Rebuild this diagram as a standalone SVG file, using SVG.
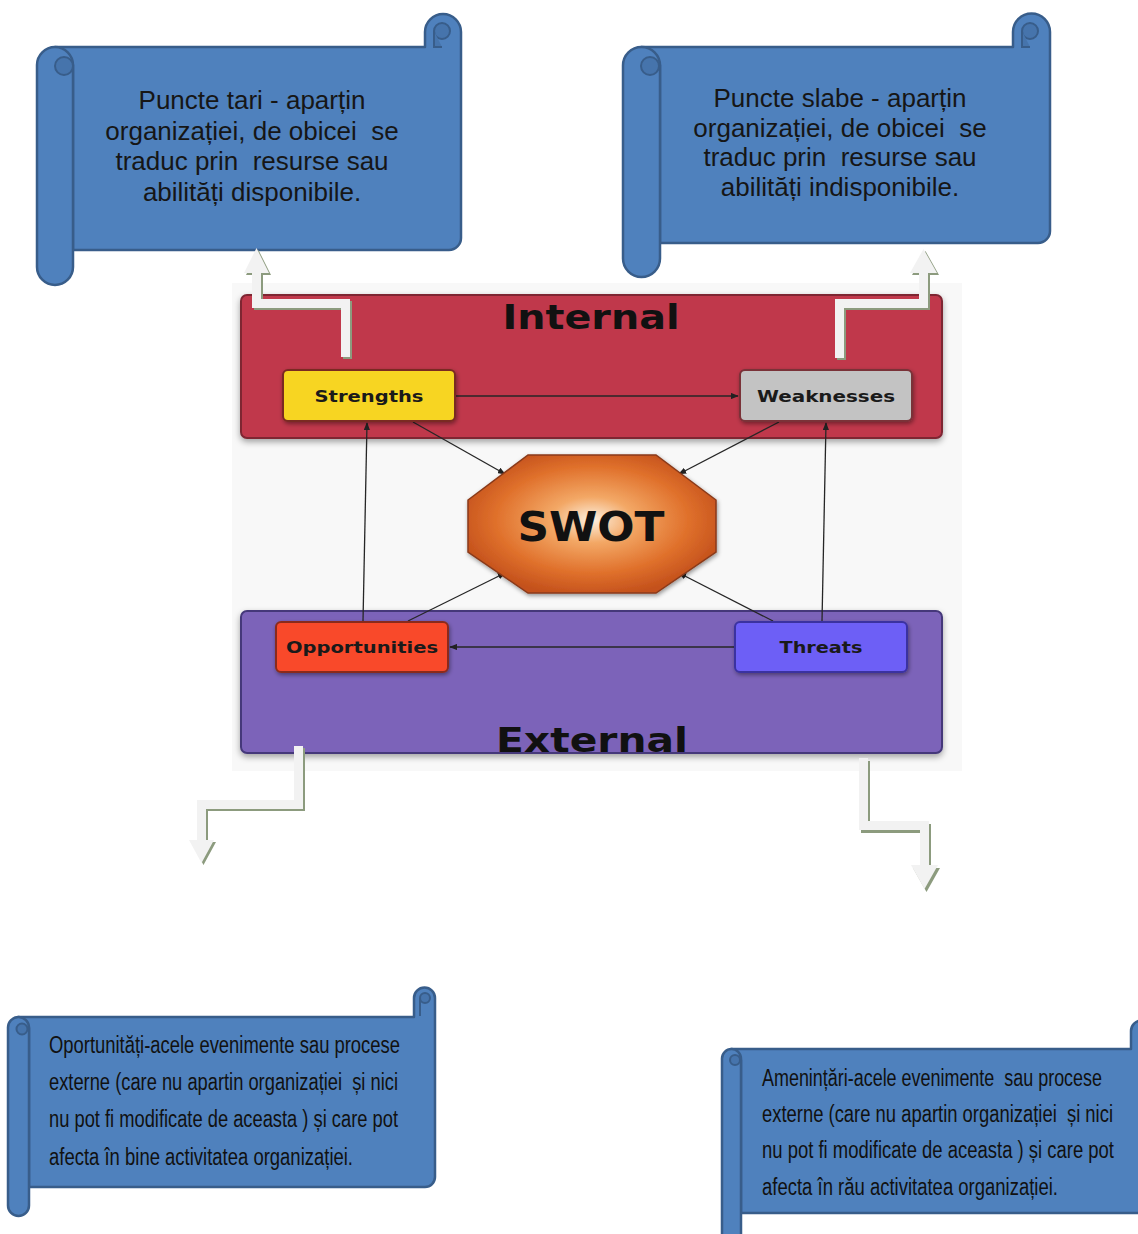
<svg xmlns="http://www.w3.org/2000/svg" width="1138" height="1234" viewBox="0 0 1138 1234">
<defs>
<style>
.scroll{fill:#4f81bd;stroke:#385d8a;stroke-width:2.5;stroke-linejoin:round}
.curl{fill:#4674ac;stroke:#385d8a;stroke-width:2}
.st{font-family:"Liberation Sans",Arial,sans-serif;font-size:26px;fill:#161616;text-anchor:middle}
.nt{font-family:"Liberation Sans",Arial,sans-serif;font-size:16px;fill:#111}
.bar{fill:#f2f2f2}
.barsh{fill:#8c9b7e}
.big{font-family:"DejaVu Sans","Liberation Sans",sans-serif;font-weight:bold;fill:#111;text-anchor:middle}
.lbl{font-family:"DejaVu Sans","Liberation Sans",sans-serif;font-weight:bold;font-size:16px;fill:#1a1a1a;text-anchor:middle}
.con{stroke:#262626;stroke-width:1.3;fill:none;marker-end:url(#ah)}
</style>
<marker id="ah" viewBox="0 0 10 8" refX="9" refY="4" markerWidth="8" markerHeight="6.5" markerUnits="userSpaceOnUse" orient="auto">
<path d="M0,0 L10,4 L0,8 Z" fill="#222"/>
</marker>
<filter id="sh" x="-5%" y="-10%" width="110%" height="130%">
<feDropShadow dx="0" dy="3" stdDeviation="3" flood-color="#000" flood-opacity="0.35"/>
</filter>
<filter id="sh2" x="-10%" y="-20%" width="120%" height="150%">
<feDropShadow dx="1" dy="2" stdDeviation="2" flood-color="#000" flood-opacity="0.4"/>
</filter>
<radialGradient id="og" cx="0.5" cy="0.47" r="0.55">
<stop offset="0" stop-color="#fdf0e0"/>
<stop offset="0.3" stop-color="#f3a866"/>
<stop offset="0.7" stop-color="#e0712c"/>
<stop offset="1" stop-color="#c4511c"/>
</radialGradient>
</defs>
<rect width="1138" height="1234" fill="#ffffff"/>
<rect x="232" y="283" width="730" height="488" fill="#f8f8f8"/>

<!-- Top-left scroll -->
<g id="scroll-puncte-tari">
<path class="scroll" d="M55 47 H425 V32 A18 18 0 0 1 461 32 V238 A12 12 0 0 1 449 250 H73 V65 Z"/>
<circle class="curl" cx="442" cy="31" r="8"/>
<path class="curl" d="M434 31 V47 H442"/>
<rect class="scroll" x="37" y="47" width="36" height="238" rx="18"/>
<circle class="curl" cx="64" cy="66" r="9"/>
<text class="st" xml:space="preserve" x="252" y="109">Puncte tari - aparțin</text>
<text class="st" xml:space="preserve" x="252" y="140">organizației, de obicei  se</text>
<text class="st" xml:space="preserve" x="252" y="170">traduc prin  resurse sau</text>
<text class="st" xml:space="preserve" x="252" y="201">abilități disponibile.</text>
</g>

<!-- Top-right scroll -->
<g id="scroll-puncte-slabe">
<path class="scroll" d="M641 47 H1013 V32 A18.5 18.5 0 0 1 1050 32 V231 A12 12 0 0 1 1038 243 H660 V65 Z"/>
<circle class="curl" cx="1030" cy="31" r="8"/>
<path class="curl" d="M1022 31 V47 H1030"/>
<rect class="scroll" x="623" y="47" width="37" height="230" rx="18.5"/>
<circle class="curl" cx="650" cy="66" r="9"/>
<text class="st" xml:space="preserve" x="840" y="107">Puncte slabe - aparțin</text>
<text class="st" xml:space="preserve" x="840" y="137">organizației, de obicei  se</text>
<text class="st" xml:space="preserve" x="840" y="166">traduc prin  resurse sau</text>
<text class="st" xml:space="preserve" x="840" y="196">abilități indisponibile.</text>
</g>

<!-- Bottom-left scroll -->
<g id="scroll-oportunitati">
<path class="scroll" d="M18 1017 H414 V998 A10.5 10.5 0 0 1 435 998 V1177 A10 10 0 0 1 425 1187 H29 V1028 Z"/>
<circle class="curl" cx="425" cy="998" r="5"/>
<path class="curl" d="M420 998 V1016"/>
<rect class="scroll" x="8" y="1017" width="21" height="199" rx="10.5"/>
<circle class="curl" cx="22" cy="1029" r="5.5"/>
<g transform="translate(49,1053) scale(1,1.55)"><text class="nt" xml:space="preserve" x="0" y="0" textLength="351" lengthAdjust="spacingAndGlyphs">Oportunități-acele evenimente sau procese</text></g>
<g transform="translate(49,1090) scale(1,1.55)"><text class="nt" xml:space="preserve" x="0" y="0" textLength="349" lengthAdjust="spacingAndGlyphs">externe (care nu apartin organizației  și nici</text></g>
<g transform="translate(49,1127) scale(1,1.55)"><text class="nt" xml:space="preserve" x="0" y="0" textLength="349" lengthAdjust="spacingAndGlyphs">nu pot fi modificate de aceasta ) și care pot</text></g>
<g transform="translate(49,1165) scale(1,1.55)"><text class="nt" xml:space="preserve" x="0" y="0" textLength="304" lengthAdjust="spacingAndGlyphs">afecta în bine activitatea organizației.</text></g>
</g>

<!-- Bottom-right scroll -->
<g id="scroll-amenintari">
<path class="scroll" d="M731 1049 H1131 V1031 A10.5 10.5 0 0 1 1152 1031 V1203 A10 10 0 0 1 1142 1213 H741 V1060 Z"/>
<rect class="scroll" x="722" y="1049" width="19" height="200" rx="9.5"/>
<circle class="curl" cx="735" cy="1060" r="5"/>
<g transform="translate(762,1086) scale(1,1.55)"><text class="nt" xml:space="preserve" x="0" y="0" textLength="340" lengthAdjust="spacingAndGlyphs">Amenințări-acele evenimente  sau procese</text></g>
<g transform="translate(762,1122) scale(1,1.55)"><text class="nt" xml:space="preserve" x="0" y="0" textLength="351" lengthAdjust="spacingAndGlyphs">externe (care nu apartin organizației  și nici</text></g>
<g transform="translate(762,1158) scale(1,1.55)"><text class="nt" xml:space="preserve" x="0" y="0" textLength="352" lengthAdjust="spacingAndGlyphs">nu pot fi modificate de aceasta ) și care pot</text></g>
<g transform="translate(762,1195) scale(1,1.55)"><text class="nt" xml:space="preserve" x="0" y="0" textLength="296" lengthAdjust="spacingAndGlyphs">afecta în rău activitatea organizației.</text></g>
</g>

<!-- SWOT containers -->
<g id="internal">
<rect x="241" y="295" width="701" height="143" rx="6" fill="#c0384c" stroke="#7e2633" stroke-width="2" filter="url(#sh)"/>
<text class="big" x="591" y="329" font-size="34" textLength="177" lengthAdjust="spacingAndGlyphs">Internal</text>
</g>
<g id="external">
<rect x="241" y="611" width="701" height="142" rx="6" fill="#7b63b9" stroke="#45397a" stroke-width="2" filter="url(#sh)"/>
<text class="big" x="592" y="752" font-size="34" textLength="192" lengthAdjust="spacingAndGlyphs">External</text>
</g>

<!-- Bent arrows -->
<g id="bent-arrows">
<polygon class="barsh" transform="translate(2,2)" points="341,357 350,357 350,299 261,299 261,273 269,273 256.5,248 244,273 252,273 252,308 341,308"/>
<polygon class="bar" points="341,357 350,357 350,299 261,299 261,273 269,273 256.5,248 244,273 252,273 252,308 341,308"/>
<polygon class="barsh" transform="translate(2,2)" points="835,358 844,358 844,308 928,308 928,273 937,273 923.5,249 910,273 919,273 919,299 835,299"/>
<polygon class="bar" points="835,358 844,358 844,308 928,308 928,273 937,273 923.5,249 910,273 919,273 919,299 835,299"/>
<polygon class="barsh" transform="translate(2,2)" points="294,746 303,746 303,809 206,809 206,840 214,840 201.5,863 189,840 197,840 197,800 294,800"/>
<polygon class="bar" points="294,746 303,746 303,809 206,809 206,840 214,840 201.5,863 189,840 197,840 197,800 294,800"/>
<polygon class="barsh" transform="translate(2,3)" points="859,758 868,758 868,821 929,821 929,865 938,865 924.5,889 911,865 920,865 920,830 859,830"/>
<polygon class="bar" points="859,758 868,758 868,821 929,821 929,865 938,865 924.5,889 911,865 920,865 920,830 859,830"/>
</g>

<!-- Connectors -->
<g id="connectors">
<line class="con" x1="456" y1="396" x2="738" y2="396"/>
<line class="con" x1="734" y1="647" x2="450" y2="647"/>
<line class="con" x1="363" y1="621" x2="367" y2="423"/>
<line class="con" x1="822" y1="621" x2="826" y2="423"/>
<line class="con" x1="413" y1="422" x2="505" y2="474"/>
<line class="con" x1="779" y1="422" x2="679" y2="474"/>
<line class="con" x1="408" y1="621" x2="505" y2="573"/>
<line class="con" x1="773" y1="621" x2="679" y2="573"/>
</g>

<g id="strengths">
<rect x="283" y="370" width="172" height="51" rx="5" fill="#f7d520" stroke="#7a2a22" stroke-width="2" filter="url(#sh2)"/>
<text class="lbl" x="369" y="402" textLength="109" lengthAdjust="spacingAndGlyphs">Strengths</text>
</g>
<g id="weaknesses">
<rect x="740" y="370" width="172" height="51" rx="5" fill="#c3c3c3" stroke="#7a3038" stroke-width="2" filter="url(#sh2)"/>
<text class="lbl" x="826" y="402" textLength="138" lengthAdjust="spacingAndGlyphs">Weaknesses</text>
</g>
<g id="opportunities">
<rect x="276" y="622" width="172" height="50" rx="5" fill="#f9492b" stroke="#8a2c1c" stroke-width="2" filter="url(#sh2)"/>
<text class="lbl" x="362" y="653" textLength="152" lengthAdjust="spacingAndGlyphs">Opportunities</text>
</g>
<g id="threats">
<rect x="735" y="622" width="172" height="50" rx="5" fill="#6d5ef6" stroke="#3a31a0" stroke-width="2" filter="url(#sh2)"/>
<text class="lbl" x="821" y="653" textLength="83" lengthAdjust="spacingAndGlyphs" fill="#1c1c52">Threats</text>
</g>
<g id="swot">
<polygon points="528,455 656,455 716,500 716,552 656,593 528,593 468,552 468,500" fill="url(#og)" stroke="#8a3a1a" stroke-width="1.5" filter="url(#sh2)"/>
<text class="big" x="591" y="541" font-size="40" textLength="147" lengthAdjust="spacingAndGlyphs">SWOT</text>
</g>
</svg>
